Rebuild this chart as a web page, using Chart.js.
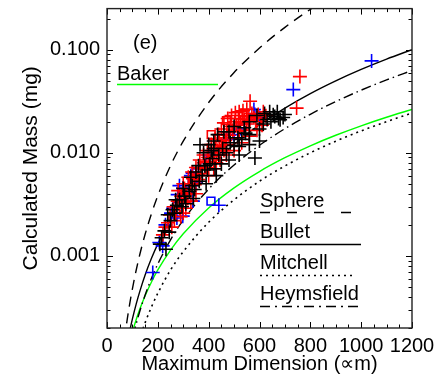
<!DOCTYPE html>
<html>
<head>
<meta charset="utf-8">
<script src="https://cdn.jsdelivr.net/npm/chart.js@4.4.1/dist/chart.umd.min.js"></script>
<style>
  html, body { margin: 0; padding: 0; background: #fff; }
</style>
</head>
<body>
<canvas id="c" width="436" height="382"></canvas>
<script>
// model curves: maximum dimension (um) and mass (mg)
const curveD     = [60, 70, 80, 90, 100, 115, 130, 150, 175, 200, 250, 300, 400, 500, 600, 700, 800, 900, 1000, 1100, 1200];
const sphereM    = [1.04e-4, 1.65e-4, 2.46e-4, 3.5e-4, 4.8e-4, 7.3e-4, 1.055e-3, 1.62e-3, 2.57e-3, 3.84e-3, 7.5e-3, 0.01296, 0.0307, 0.060, 0.1037, 0.1646, 0.2458, 0.35, 0.48, 0.64, 0.83];
const bulletM    = [7.1e-5, 1.03e-4, 1.43e-4, 1.9e-4, 2.45e-4, 3.43e-4, 4.61e-4, 6.53e-4, 9.47e-4, 1.309e-3, 2.245e-3, 3.49e-3, 7.0e-3, 0.01202, 0.01869, 0.02714, 0.03749, 0.04983, 0.06433, 0.0810, 0.100];
const mitchellM  = [2.79e-5, 3.96e-5, 5.34e-5, 6.97e-5, 8.84e-5, 1.213e-4, 1.62e-4, 2.25e-4, 3.2e-4, 4.35e-4, 7.3e-4, 1.1e-3, 2.12e-3, 3.5e-3, 5.3e-3, 7.45e-3, 0.0100, 0.01295, 0.0163, 0.02005, 0.0243];
const heymsM     = [4.6e-5, 6.67e-5, 9.2e-5, 1.22e-4, 1.575e-4, 2.2e-4, 2.96e-4, 4.18e-4, 6.06e-4, 8.37e-4, 1.432e-3, 2.222e-3, 4.45e-3, 7.62e-3, 0.01182, 0.01713, 0.02363, 0.03138, 0.04047, 0.05091, 0.0628];
const bakerM     = [6.58e-5, 8.95e-5, 1.17e-4, 1.48e-4, 1.83e-4, 2.42e-4, 3.09e-4, 4.11e-4, 5.59e-4, 7.31e-4, 1.14e-3, 1.64e-3, 2.92e-3, 4.57e-3, 6.58e-3, 8.95e-3, 0.01169, 0.01479, 0.01826, 0.0221, 0.0263];

// observed particles (um, mg)
const redD   = [240,248,255,262,270,278,285,292,300,305,312,318,325,330,338,345,352,360,368,375,382,390,398,405,412,420,428,435,442,450,458,465,472,480,488,495,503,510,518,525,532,540,548,555,562,570,578,585,595,605,615,625,563,759,746,400,430,460,350,300,265,220,230,470,520,
                450,460,475,490,505,520,535,550,440,425,410,395,380,365,350,335,320,420,445,470,500,530,560,590,610,300,280,290,310,330];
const redM   = [0.0021,0.0025,0.0019,0.0030,0.0026,0.0034,0.0029,0.0038,0.0033,0.0045,0.0040,0.0036,0.0050,0.0044,0.0056,0.0049,0.0062,0.0055,0.0070,0.0063,0.0080,0.0072,0.0090,0.0082,0.0100,0.0093,0.0112,0.0105,0.0128,0.0118,0.0140,0.0132,0.0160,0.0148,0.0180,0.0165,0.0200,0.0185,0.0215,0.0195,0.0230,0.0210,0.0190,0.0225,0.0205,0.0240,0.0218,0.0200,0.0235,0.0215,0.0250,0.0228,0.0316,0.0548,0.0271,0.0060,0.0080,0.0105,0.0040,0.0026,0.0022,0.0016,0.0019,0.0120,0.0160,
                0.0170,0.0195,0.0215,0.0230,0.0245,0.0250,0.0255,0.0265,0.0150,0.0135,0.0120,0.0105,0.0095,0.0085,0.0072,0.0065,0.0058,0.0070,0.0085,0.0095,0.0105,0.0125,0.0145,0.0165,0.0185,0.0050,0.0043,0.0024,0.0029,0.0034];
const redSqD = [300, 350, 380, 450, 500, 540, 470, 410];
const redSqM = [0.0038, 0.0055, 0.0075, 0.0105, 0.0150, 0.0180, 0.0205, 0.0150];
const blackD = [226,232,239,258,250,265,275,285,295,305,324,335,345,363,366,375,385,395,405,415,425,440,455,470,485,500,515,530,545,560,582,600,615,630,645,660,675,693,681,654,450,520,410,360,480,540,208,215,245,
                380,400,420,435,460,500,560,590,620,640,670,700,600,560,520,480,430,390,340,310,270,300,330,350,420];
const blackM = [0.00175,0.00116,0.00251,0.0028,0.0022,0.0026,0.0031,0.0035,0.0030,0.0038,0.00423,0.0048,0.0044,0.00529,0.01197,0.0060,0.0075,0.0068,0.0078,0.0088,0.0070,0.0095,0.0110,0.0100,0.0125,0.0118,0.0140,0.0135,0.0155,0.0150,0.0089,0.0170,0.0190,0.0210,0.0200,0.0225,0.0215,0.0220,0.0209,0.0234,0.0078,0.0115,0.0105,0.0075,0.0160,0.0175,0.0013,0.0015,0.0017,
                0.0100,0.0120,0.0130,0.0150,0.0160,0.0180,0.0200,0.0230,0.0240,0.0250,0.0250,0.0235,0.0130,0.0120,0.0095,0.0085,0.0060,0.0050,0.0036,0.0032,0.0035,0.0045,0.0058,0.0065,0.0110];
const blueD  = [180,206,219,252,260,275,278,298,299,337,338,440,582,578,733,1041,400,470,520,320,360,560,230,
                290,310,350,330,420,500,540,600,285,390];
const blueM  = [0.00069,0.00135,0.00125,0.0026,0.0029,0.00233,0.00393,0.00243,0.00455,0.00635,0.0034,0.0031,0.0235,0.0263,0.041,0.0778,0.0095,0.0135,0.0170,0.0050,0.0070,0.0210,0.0020,
                0.0033,0.0041,0.0052,0.0060,0.0105,0.0150,0.0190,0.0220,0.0048,0.0080];
const blueSqD = [409];
const blueSqM = [0.0034];

const xTickVals = [0, 200, 400, 600, 800, 1000, 1200];
const yTickVals = [0.001, 0.01, 0.1];

const FONT = '"Liberation Sans", Arial, Helvetica, sans-serif';
Chart.defaults.font.family = FONT;
Chart.defaults.color = '#000';

const pts = (xs, ys) => xs.map((x, i) => ({ x: x, y: ys[i] }));

function markers(xs, ys, color, style, r) {
  return {
    data: pts(xs, ys), showLine: false,
    pointStyle: style, pointRadius: r, pointHoverRadius: r,
    borderColor: color, backgroundColor: 'rgba(0,0,0,0)', pointBorderWidth: 1.6
  };
}
function curve(ys, color, dash, w) {
  return {
    data: pts(curveD, ys), showLine: true, pointRadius: 0,
    borderColor: color, borderWidth: w || 1.4, borderDash: dash,
    cubicInterpolationMode: 'monotone', fill: false
  };
}

// legend entries in the lower right, and the frame / inside ticks
const legendRows = [
  { text: 'Sphere',     base: 207, lineY: 212, x2: 352, dash: [10, 17] },
  { text: 'Bullet',     base: 238, lineY: 244, x2: 361, dash: [] },
  { text: 'Mitchell',   base: 269, lineY: 275, x2: 356, dash: [2, 4] },
  { text: 'Heymsfield', base: 300, lineY: 306, x2: 362, dash: [10, 5, 2, 5] }
];

const decor = {
  id: 'decor',
  afterDatasetsDraw(chart) {
    const ctx = chart.ctx;
    const a = chart.chartArea;
    const xs = chart.scales.x, ys = chart.scales.y;
    ctx.save();
    ctx.strokeStyle = '#000';
    ctx.lineWidth = 1;
    ctx.setLineDash([]);
    ctx.beginPath();
    for (let v = 0; v <= 1200; v += 50) {
      const px = Math.round(xs.getPixelForValue(v)) + 0.5;
      const len = v % 200 === 0 ? 6 : 3.5;
      ctx.moveTo(px, a.bottom); ctx.lineTo(px, a.bottom - len);
      ctx.moveTo(px, a.top); ctx.lineTo(px, a.top + len);
    }
    for (let e = -4; e <= 0; e++) {
      for (let k = 1; k <= 9; k++) {
        const v = k * Math.pow(10, e);
        if (v < ys.min || v > ys.max) continue;
        const py = Math.round(ys.getPixelForValue(v)) + 0.5;
        const len = k === 1 ? 6 : 3.5;
        ctx.moveTo(a.left, py); ctx.lineTo(a.left + len, py);
        ctx.moveTo(a.right, py); ctx.lineTo(a.right - len, py);
      }
    }
    ctx.stroke();
    ctx.lineWidth = 1.4;
    ctx.strokeStyle = '#222';
    ctx.strokeRect(a.left, a.top, a.right - a.left, a.bottom - a.top);

    ctx.fillStyle = '#000';
    ctx.font = '20px ' + FONT;
    ctx.textBaseline = 'alphabetic';
    ctx.textAlign = 'left';
    ctx.fillText('(e)', 133, 49);
    ctx.fillText('Baker', 117, 80);
    ctx.strokeStyle = '#00ff00';
    ctx.lineWidth = 1.5;
    ctx.beginPath(); ctx.moveTo(117, 84.5); ctx.lineTo(218, 84.5); ctx.stroke();

    ctx.strokeStyle = '#000';
    ctx.lineWidth = 1.5;
    legendRows.forEach(r => {
      ctx.fillText(r.text, 260, r.base);
      ctx.setLineDash(r.dash);
      ctx.beginPath(); ctx.moveTo(260, r.lineY + 0.5); ctx.lineTo(r.x2, r.lineY + 0.5); ctx.stroke();
    });
    ctx.restore();
  }
};

new Chart(document.getElementById('c'), {
  type: 'scatter',
  data: {
    datasets: [
      markers(blackD, blackM, '#000000', 'cross', 7),
      markers(redD, redM, '#ff0000', 'cross', 7),
      markers(redSqD, redSqM, '#ff0000', 'rect', 5.5),
      markers(blueD, blueM, '#0000ff', 'cross', 7),
      markers(blueSqD, blueSqM, '#0000ff', 'rect', 5.5),
      curve(sphereM, '#000', [10, 7]),
      curve(bulletM, '#000', []),
      curve(heymsM, '#000', [10, 4, 1.5, 4]),
      curve(mitchellM, '#000', [2, 4], 1.6),
      curve(bakerM, '#00ff00', [])
    ]
  },
  plugins: [decor],
  options: {
    responsive: false,
    animation: false,
    events: [],
    layout: { padding: { top: 7, right: 24, left: 0, bottom: 0 } },
    plugins: { legend: { display: false }, tooltip: { enabled: false } },
    scales: {
      x: {
        type: 'linear', min: 0, max: 1200,
        grid: { display: false, drawTicks: false },
        border: { display: false },
        afterBuildTicks: s => { s.ticks = xTickVals.map(v => ({ value: v })); },
        ticks: { font: { size: 20 }, padding: 6, maxRotation: 0, autoSkip: false, callback: v => String(v) },
        title: { display: true, text: 'Maximum Dimension (\u221Dm)', font: { size: 20 }, padding: { top: 0, bottom: 6 } },
        afterFit: s => { s.height = 54; s.paddingLeft = 0; s.paddingRight = 0; }
      },
      y: {
        type: 'logarithmic', min: 0.0002, max: 0.25,
        grid: { display: false, drawTicks: false },
        border: { display: false },
        afterBuildTicks: s => { s.ticks = yTickVals.map(v => ({ value: v })); },
        ticks: { font: { size: 20 }, padding: 7, autoSkip: false, callback: v => Number(v).toFixed(3) },
        title: { display: true, text: 'Calculated Mass (mg)', font: { size: 21 }, padding: { top: 19, bottom: 0 } },
        afterFit: s => { s.width = 107; s.paddingTop = 0; s.paddingBottom = 0; }
      }
    }
  }
});
</script>
</body>
</html>
